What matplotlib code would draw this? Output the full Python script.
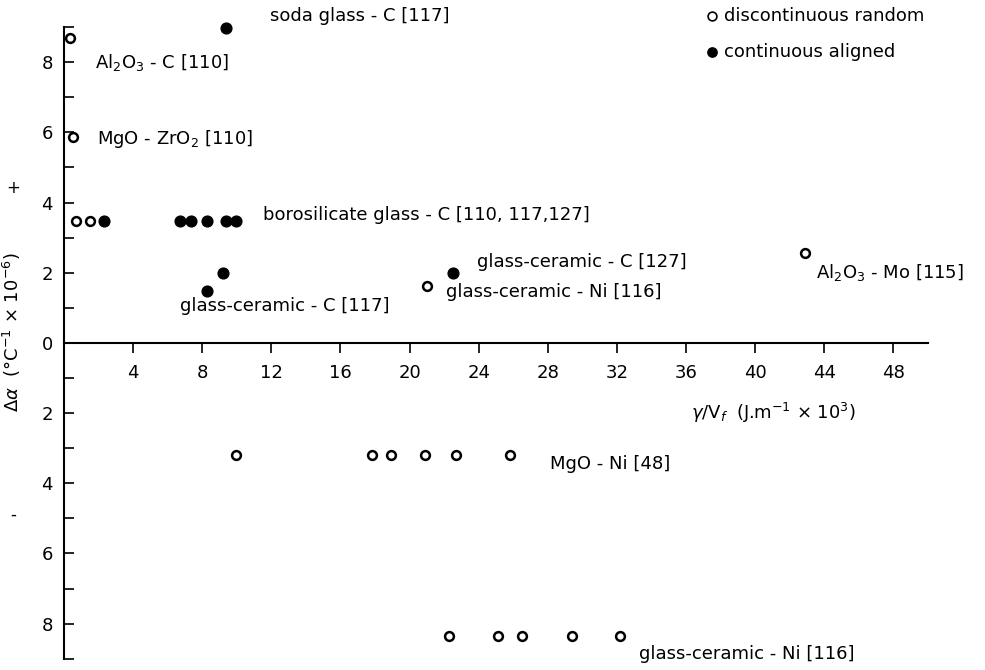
import matplotlib
matplotlib.use("Agg")
import matplotlib.pyplot as plt

# open circles: discontinuous random
open_x = [0.35, 0.5, 0.7, 1.5, 21.0, 42.9,
          9.95, 17.8, 18.9, 20.9, 22.7, 25.8,
          22.3, 25.1, 26.5, 29.4, 32.2]
open_y = [8.7, 5.87, 3.46, 3.46, 1.62, 2.55,
          -3.2, -3.2, -3.2, -3.2, -3.2, -3.2,
          -8.35, -8.35, -8.35, -8.35, -8.35]

# filled circles: continuous aligned
fill_x = [9.4, 2.3, 6.7, 7.35, 8.3, 9.4, 9.95, 9.2, 8.3, 22.5]
fill_y = [8.97, 3.46, 3.46, 3.46, 3.46, 3.46, 3.46, 2.0, 1.48, 1.99]

# annotations (text, x, y)
labels = [
    ("soda glass - C [117]", 11.9, 9.3),
    (r"Al$_2$O$_3$ - C [110]", 1.8, 8.0),
    (r"MgO - ZrO$_2$ [110]", 1.9, 5.8),
    ("borosilicate glass - C [110, 117,127]", 11.5, 3.65),
    ("glass-ceramic - C [117]", 6.7, 1.05),
    ("glass-ceramic - C [127]", 23.9, 2.3),
    ("glass-ceramic - Ni [116]", 22.1, 1.45),
    (r"Al$_2$O$_3$ - Mo [115]", 43.5, 2.0),
    ("MgO - Ni [48]", 28.1, -3.45),
    ("glass-ceramic - Ni [116]", 33.3, -8.85),
]

x_ticks = [4, 8, 12, 16, 20, 24, 28, 32, 36, 40, 44, 48]
y_major = [-8, -6, -4, -2, 0, 2, 4, 6, 8]
y_minor = [-9, -7, -5, -3, -1, 1, 3, 5, 7, 9]

plt.rcParams['font.family'] = ['DejaVu Sans']
plt.rcParams['mathtext.fontset'] = 'dejavusans'

fig = plt.figure(figsize=(9.85, 6.7), dpi=100)
ax = fig.add_axes([0, 0, 1, 1])
ax.set_xlim(-3.7, 53.3)
ax.set_ylim(-9.32, 9.77)

ax.scatter(open_x, open_y, s=40, facecolors='white', edgecolors='black',
           linewidths=1.8, zorder=3)
ax.scatter(fill_x, fill_y, s=60, color='black', zorder=3)

for txt, x, y in labels:
    ax.text(x, y, txt, fontsize=13, va='center', ha='left')

# axes through origin
for s in ['top', 'right']:
    ax.spines[s].set_visible(False)
ax.spines['left'].set_position(('data', 0))
ax.spines['bottom'].set_position(('data', 0))
ax.spines['left'].set_bounds(-9, 9)
ax.spines['bottom'].set_bounds(0, 50)
ax.spines['left'].set_linewidth(1.5)
ax.spines['bottom'].set_linewidth(1.5)

ax.set_xticks(x_ticks)
ax.set_xticklabels([str(t) for t in x_ticks], fontsize=13)
ax.set_yticks(y_major)
ax.set_yticklabels([str(abs(t)) for t in y_major], fontsize=13)
ax.set_yticks(y_minor, minor=True)
ax.tick_params(axis='x', direction='out', length=7, width=1.2, pad=8)
ax.tick_params(axis='y', which='both', direction='in', length=7, width=1.2, pad=8)

# axis labels, signs and legend as text
ax.text(-3.0, 0.3, r"$\Delta\alpha$  ($\degree$C$^{-1}$ $\times$ 10$^{-6}$)", rotation=90,
        fontsize=13, ha='center', va='center')
ax.text(-2.95, 4.4, "+", fontsize=12, ha='center', va='center')
ax.text(-2.95, -4.9, "-", fontsize=12, ha='center', va='center')
ax.text(36.3, -2.0, r"$\gamma$/V$_f$  (J.m$^{-1}$ $\times$ 10$^3$)", fontsize=13,
        ha='left', va='center')

ax.scatter([37.5], [9.3], s=40, facecolors='white', edgecolors='black', linewidths=1.2)
ax.text(38.2, 9.3, "discontinuous random", fontsize=13, va='center')
ax.scatter([37.5], [8.3], s=45, color='black')
ax.text(38.2, 8.3, "continuous aligned", fontsize=13, va='center')

fig.savefig("out.png", dpi=100)
